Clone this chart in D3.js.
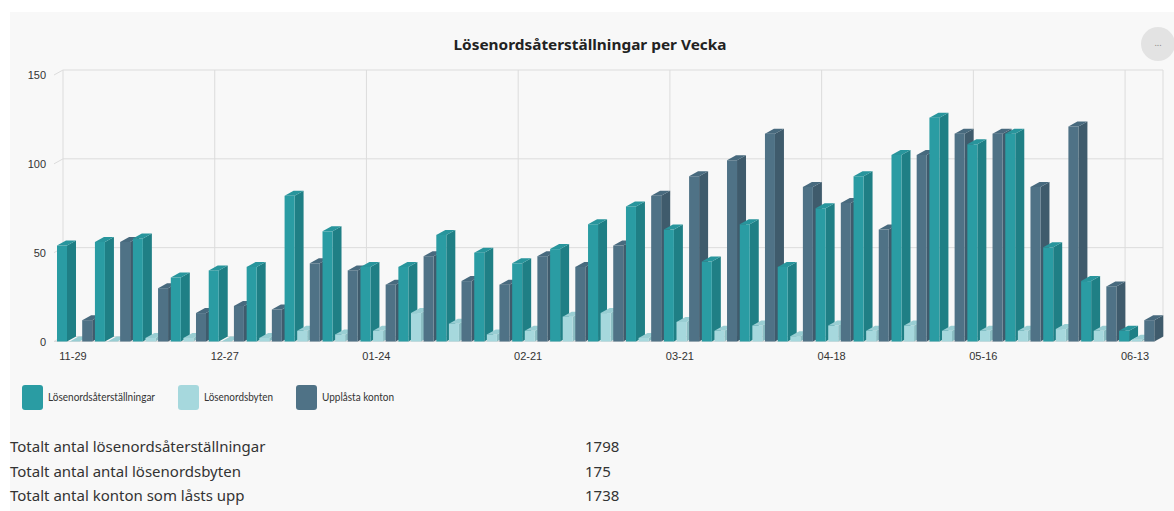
<!DOCTYPE html>
<html lang="sv">
<head>
<meta charset="UTF-8">
<title>Lösenordsåterställningar per Vecka</title>
<script src="https://cdn.jsdelivr.net/npm/d3@7"></script>
<style>
  html, body { margin: 0; padding: 0; background: #ffffff; }
  body { font-family: "Segoe UI", "Noto Sans", "Open Sans", sans-serif; }
  .axis text { font-size: 11px; fill: #333; }
  .legend text { font-family: Lato, "Noto Sans", sans-serif; font-size: 11px; fill: #333; }
  .summary text { font-size: 15px; fill: #333; }
</style>
</head>
<body>
<div id="chart"></div>
<script>
// veckor (första dag i veckan)
const weeks = ["11-29", "12-06", "12-13", "12-20", "12-27", "01-03", "01-10", "01-17",
  "01-24", "01-31", "02-07", "02-14", "02-21", "02-28", "03-07", "03-14", "03-21",
  "03-28", "04-04", "04-11", "04-18", "04-25", "05-02", "05-09", "05-16", "05-23",
  "05-30", "06-06", "06-13"];
const resets = [54, 56, 58, 36, 40, 42, 82, 62, 42, 42, 60, 50, 44, 52, 66, 76, 63, 45,
  66, 42, 75, 93, 105, 126, 111, 117, 53, 34, 6];
const changes = [0, 0, 2, 2, 0, 2, 6, 4, 6, 16, 10, 4, 6, 14, 16, 2, 11, 6, 9, 3, 9, 6,
  9, 6, 6, 6, 7, 6, 1];
const unlocked = [12, 56, 30, 16, 20, 18, 44, 40, 32, 48, 34, 32, 48, 42, 54, 82, 93, 102,
  117, 87, 78, 63, 105, 117, 117, 87, 121, 31, 12];
const yTicks = [0, 50, 100, 150];
const tickWeeks = ["11-29", "12-27", "01-24", "02-21", "03-21", "04-18", "05-16", "06-13"];

const seriesNames = ["Lösenordsåterställningar", "Lösenordsbyten", "Upplåsta konton"];
const seriesValues = [resets, changes, unlocked];
const colors = [
  { front: "#2a9ca3", side: "#1f7f85", top: "#28959c" },
  { front: "#a6d8dd", side: "#8cbec3", top: "#99ced3" },
  { front: "#4f7286", side: "#3f5b6c", top: "#486a7e" }
];
const summary = [
  ["Totalt antal lösenordsåterställningar", "1798"],
  ["Totalt antal antal lösenordsbyten", "175"],
  ["Totalt antal konton som låsts upp", "1738"]
];

const W = 1174, H = 511;
const dx = 9, dy = 5; // 3D-djup

const svg = d3.select("#chart").append("svg")
  .attr("width", W).attr("height", H);

svg.append("rect").attr("x", 10).attr("y", 12).attr("width", W - 10).attr("height", H - 12)
  .attr("fill", "#f8f8f8");

const x = d3.scaleBand().domain(weeks).range([54, 1154]);
const xs = d3.scaleBand().domain(d3.range(3)).range([3, 38.2]).paddingInner(0.206);
const y = d3.scaleLinear().domain([0, 150]).range([341.5, 75]);

// bakvägg: rutnät
const grid = svg.append("g");
grid.selectAll("line.h").data(yTicks).join("line")
  .attr("x1", x.range()[0] + dx).attr("x2", x.range()[1] + dx)
  .attr("y1", d => y(d) - dy).attr("y2", d => y(d) - dy)
  .attr("stroke", "#dcdcdc");
grid.selectAll("line.hl").data(yTicks).join("line")
  .attr("x1", x.range()[0]).attr("x2", x.range()[0] + dx)
  .attr("y1", d => y(d)).attr("y2", d => y(d) - dy)
  .attr("stroke", "#dcdcdc");
grid.selectAll("line.v").data(tickWeeks).join("line")
  .attr("x1", d => x(d) + dx).attr("x2", d => x(d) + dx)
  .attr("y1", y(150) - dy).attr("y2", y(0) - dy)
  .attr("stroke", "#dcdcdc");
grid.append("line")
  .attr("x1", x.range()[1] + dx).attr("x2", x.range()[1] + dx)
  .attr("y1", y(150) - dy).attr("y2", y(0) - dy)
  .attr("stroke", "#dcdcdc");
grid.append("line")
  .attr("x1", x.range()[1]).attr("x2", x.range()[1] + dx)
  .attr("y1", y(0)).attr("y2", y(0) - dy)
  .attr("stroke", "#dcdcdc");
grid.append("line")
  .attr("x1", x.range()[0]).attr("x2", x.range()[1])
  .attr("y1", y(0)).attr("y2", y(0))
  .attr("stroke", "#dcdcdc");

// staplar, vänster till höger
const bars = [];
weeks.forEach((w, i) => {
  seriesValues.forEach((vals, s) => bars.push({ w, s, v: vals[i] }));
});

const g = svg.append("g").selectAll("g").data(bars).join("g");
g.each(function (d) {
  const el = d3.select(this);
  const x0 = x(d.w) + xs(d.s), bw = xs.bandwidth();
  const yt = y(d.v), yb = y(0);
  const c = colors[d.s];
  el.append("path")
    .attr("d", `M${x0 + bw},${yt}L${x0 + bw + dx},${yt - dy}L${x0 + bw + dx},${yb - dy}L${x0 + bw},${yb}Z`)
    .attr("fill", c.side);
  el.append("rect")
    .attr("x", x0).attr("y", yt).attr("width", bw).attr("height", yb - yt)
    .attr("fill", c.front);
  el.append("path")
    .attr("d", `M${x0},${yt}L${x0 + dx},${yt - dy}L${x0 + bw + dx},${yt - dy}L${x0 + bw},${yt}Z`)
    .attr("fill", c.top);
});

// axlar
const yAxis = svg.append("g").attr("class", "axis")
  .attr("transform", "translate(46,0)")
  .call(d3.axisLeft(y).tickValues(yTicks).tickSize(0).tickPadding(0));
yAxis.select(".domain").remove();

const xAxis = svg.append("g").attr("class", "axis")
  .attr("transform", `translate(0,${y(0) + 8})`)
  .call(d3.axisBottom(x).tickValues(tickWeeks).tickSize(0).tickPadding(3));
xAxis.select(".domain").remove();

// titel
svg.append("text").attr("x", 590).attr("y", 50).attr("text-anchor", "middle")
  .attr("font-size", 15).attr("font-weight", "bold").attr("fill", "#222")
  .attr("textLength", 273).attr("lengthAdjust", "spacingAndGlyphs")
  .text("Lösenordsåterställningar per Vecka");

// meny-knapp
svg.append("circle").attr("cx", 1158).attr("cy", 44).attr("r", 17).attr("fill", "#e3e3e3");
svg.append("text").attr("x", 1158).attr("y", 46).attr("text-anchor", "middle")
  .attr("font-size", 9).attr("fill", "#888").text("...");

// legend
const legendX = [22, 178, 296];
const legendW = [107, 69, 72];
const lg = svg.append("g").attr("class", "legend").selectAll("g").data(seriesNames).join("g")
  .attr("transform", (d, i) => `translate(${legendX[i]},385)`);
lg.append("rect").attr("width", 21).attr("height", 25).attr("rx", 3)
  .attr("fill", (d, i) => colors[i].front);
lg.append("text").attr("x", 26).attr("y", 16)
  .attr("textLength", (d, i) => legendW[i]).attr("lengthAdjust", "spacingAndGlyphs")
  .text(d => d);

// summering
const sm = svg.append("g").attr("class", "summary").selectAll("g").data(summary).join("g")
  .attr("transform", (d, i) => `translate(0,${452 + i * 24.5})`);
sm.append("text").attr("x", 10).text(d => d[0]);
sm.append("text").attr("x", 585).text(d => d[1]);
</script>
</body>
</html>
